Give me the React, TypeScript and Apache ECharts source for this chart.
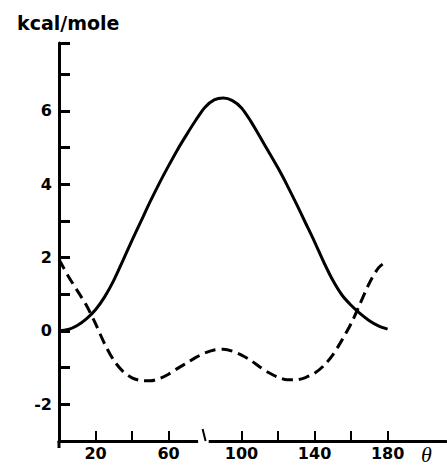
import React, { useEffect, useRef } from "react";
import * as echarts from "echarts";

const solidTheta = [0, 5, 10, 15, 20, 25, 30, 35, 40, 45, 50, 55, 60, 65, 70, 75, 80, 85, 90, 95, 100, 105, 110, 115, 120, 125, 130, 135, 140, 145, 150, 155, 160, 165, 170, 175, 180];
const solidEnergy = [0, 0.04, 0.15, 0.33, 0.58, 0.93, 1.38, 1.92, 2.47, 3.0, 3.53, 4.03, 4.5, 4.95, 5.36, 5.75, 6.1, 6.3, 6.35, 6.28, 6.08, 5.72, 5.3, 4.87, 4.44, 3.97, 3.47, 2.95, 2.43, 1.88, 1.38, 0.98, 0.7, 0.47, 0.28, 0.14, 0.05];

const dashedTheta = [0, 5, 10, 15, 20, 25, 30, 35, 40, 45, 50, 55, 60, 65, 70, 75, 80, 85, 90, 95, 100, 105, 110, 115, 120, 125, 130, 135, 140, 145, 150, 155, 160, 165, 170, 175, 180];
const dashedEnergy = [1.95, 1.5, 1.1, 0.7, 0.2, -0.35, -0.8, -1.1, -1.28, -1.35, -1.36, -1.3, -1.18, -1.02, -0.87, -0.72, -0.6, -0.52, -0.5, -0.55, -0.66, -0.8, -0.98, -1.14, -1.26, -1.33, -1.33, -1.27, -1.15, -0.95, -0.65, -0.25, 0.2, 0.75, 1.3, 1.72, 1.92];

const xTickValues = [20, 40, 60, 100, 120, 140, 160, 180];
const xLabelValues = [20, 60, 100, 140, 180];
const yLabelValues = [-2, 0, 2, 4, 6];

const FONT = "DejaVu Sans, Liberation Sans, sans-serif";

export default function App() {
  const ref = useRef<HTMLDivElement>(null);
  useEffect(() => {
    if (!ref.current) return;
    const chart = echarts.init(ref.current, null, { renderer: "svg" });
    const option: any = {
      animation: false,
      backgroundColor: "#fff",
      title: {
        text: "kcal/mole",
        left: 12,
        top: 8,
        textStyle: { fontFamily: FONT, fontWeight: "bold", fontSize: 19, color: "#000" },
      },
      grid: { left: 59, right: 1, top: 43, bottom: 24, containLabel: false },
      xAxis: {
        type: "value",
        min: 0,
        max: 212,
        interval: 20,
        axisLine: { show: true, onZero: false, lineStyle: { color: "#000", width: 3 } },
        axisTick: {
          show: true,
          inside: true,
          length: 10,
          customValues: xTickValues,
          lineStyle: { color: "#000", width: 2 },
        },
        axisLabel: {
          show: true,
          customValues: xLabelValues,
          margin: 4,
          color: "#000",
          fontFamily: FONT,
          fontWeight: "bold",
          fontSize: 16,
        },
        splitLine: { show: false },
      },
      yAxis: {
        type: "value",
        min: -3,
        max: 7.85,
        interval: 1,
        axisLine: { show: true, onZero: false, lineStyle: { color: "#000", width: 3 } },
        axisTick: { show: true, inside: true, length: 11, lineStyle: { color: "#000", width: 3 } },
        axisLabel: {
          show: true,
          customValues: yLabelValues,
          margin: 7,
          color: "#000",
          fontFamily: FONT,
          fontWeight: "bold",
          fontSize: 16,
        },
        splitLine: { show: false },
      },
      series: [
        {
          type: "line",
          name: "solid",
          data: solidTheta.map((t, i) => [t, solidEnergy[i]]),
          smooth: 0.3,
          showSymbol: false,
          lineStyle: { color: "#000", width: 3, type: "solid" },
        },
        {
          type: "line",
          name: "dashed",
          data: dashedTheta.map((t, i) => [t, dashedEnergy[i]]),
          smooth: 0.3,
          showSymbol: false,
          lineStyle: { color: "#000", width: 3, type: [11, 6] },
        },
      ],
    };
    chart.setOption(option);

    const p = (x: number, y: number) => chart.convertToPixel({ gridIndex: 0 }, [x, y]) as number[];
    const b0 = p(76.2, -3);
    const b1 = p(82, -3);
    const m = p(79.5, -3);
    const yBottom = p(0, -3);
    chart.setOption({
      graphic: [
        {
          type: "rect",
          shape: { x: b0[0], y: b0[1] - 3, width: b1[0] - b0[0], height: 6 },
          style: { fill: "#fff" },
          z: 100,
        },
        {
          type: "line",
          shape: { x1: m[0] - 1.5, y1: m[1] - 12, x2: m[0] + 1.5, y2: m[1] },
          style: { stroke: "#000", lineWidth: 2 },
          z: 101,
        },
        {
          type: "line",
          shape: { x1: yBottom[0], y1: yBottom[1], x2: yBottom[0], y2: yBottom[1] + 7 },
          style: { stroke: "#000", lineWidth: 3 },
          z: 101,
        },
        {
          type: "text",
          x: 421,
          y: 443,
          style: { text: "θ", font: "italic 22px Liberation Serif, serif", fill: "#000" },
          z: 101,
        },
      ],
    });
    return () => chart.dispose();
  }, []);
  return <div ref={ref} style={{ position: "absolute", left: 0, top: 0, width: 447, height: 465 }} />;
}
